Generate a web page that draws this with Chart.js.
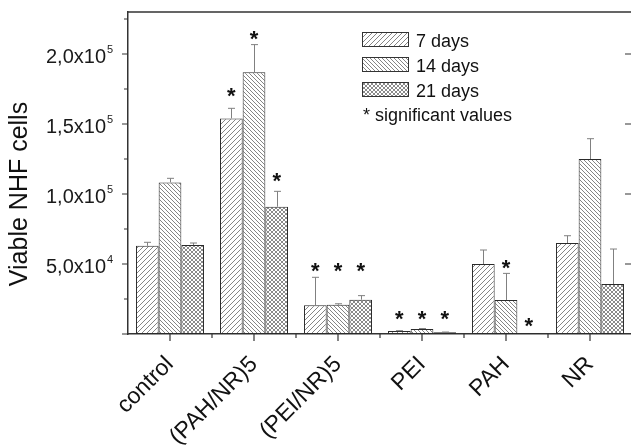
<!DOCTYPE html>
<html>
<head>
<meta charset="utf-8">
<script src="https://cdn.jsdelivr.net/npm/chart.js@4.4.0/dist/chart.umd.min.js"></script>
<style>
html, body { margin: 0; padding: 0; background: #fff; overflow: hidden; }
</style>
</head>
<body>
<canvas id="chart" width="636" height="448"></canvas>
<script>
const categories = ['control', '(PAH/NR)5', '(PEI/NR)5', 'PEI', 'PAH', 'NR'];
const seriesNames = ['7 days', '14 days', '21 days'];

// mean viable cells
const days7 = [63000, 154000, 20500, 2100, 50000, 65000];
const days14 = [108300, 186900, 20900, 3600, 24300, 125000];
const days21 = [63600, 90900, 24500, 1200, 500, 35700];

// upper error (SD)
const err7 = [2500, 7200, 20000, 300, 10000, 5200];
const err14 = [2900, 19800, 700, 300, 19000, 14500];
const err21 = [1400, 11000, 2900, 200, 0, 25000];

// level of the "*" mark for significant values (null = not significant)
const star7 = [null, 174300, 49300, 14800, null, null];
const star14 = [null, 215000, 49300, 14800, 51600, null];
const star21 = [null, 113600, 49300, 14800, 10000, null];

const yMajor = [0, 50000, 100000, 150000, 200000];
const yMinor = [25000, 75000, 125000, 175000, 225000];
const yLabelled = [50000, 100000, 150000, 200000];

const FONT = '"Liberation Sans", Arial, sans-serif';

function hatch(dirs, step, color) {
	const c = document.createElement('canvas');
	c.width = c.height = step;
	const g = c.getContext('2d');
	g.fillStyle = '#fff';
	g.fillRect(0, 0, step, step);
	g.strokeStyle = color;
	g.lineWidth = 1;
	dirs.forEach((d) => {
		[-step, 0, step].forEach((k) => {
			g.beginPath();
			if (d === '/') {
				g.moveTo(k - 1, step + 1);
				g.lineTo(k + step + 1, -1);
			} else {
				g.moveTo(k - 1, -1);
				g.lineTo(k + step + 1, step + 1);
			}
			g.stroke();
		});
	});
	return g.createPattern(c, 'repeat');
}

const fills = [
	hatch(['/'], 5, '#858585'),
	hatch(['\\'], 4, '#858585'),
	hatch(['/', '\\'], 4, '#8a8a8a'),
];
const values = [days7, days14, days21];
const errors = [err7, err14, err21];
const stars = [star7, star14, star21];

function sciLabel(v) {
	const exp = Math.floor(Math.log10(v));
	const mant = (v / Math.pow(10, exp)).toFixed(1).replace('.', ',');
	return { main: mant + 'x10', sup: String(exp) };
}

const decor = {
	id: 'decor',
	afterDatasetsDraw(chart) {
		const { ctx, chartArea: a, scales: { x, y } } = chart;
		ctx.save();

		// error bars
		ctx.strokeStyle = '#808080';
		ctx.lineWidth = 1;
		values.forEach((vals, i) => {
			const meta = chart.getDatasetMeta(i);
			meta.data.forEach((bar, j) => {
				if (!errors[i][j]) return;
				const top = y.getPixelForValue(vals[j] + errors[i][j]);
				const bx = Math.round(bar.x) + 0.5;
				ctx.beginPath();
				ctx.moveTo(bx, bar.y);
				ctx.lineTo(bx, top);
				ctx.moveTo(bx - 3.5, top);
				ctx.lineTo(bx + 3.5, top);
				ctx.stroke();
			});
		});

		// significance stars
		ctx.fillStyle = '#111';
		ctx.font = 'bold 22px ' + FONT;
		ctx.textAlign = 'center';
		ctx.textBaseline = 'alphabetic';
		stars.forEach((lv, i) => {
			const meta = chart.getDatasetMeta(i);
			meta.data.forEach((bar, j) => {
				if (lv[j] == null) return;
				ctx.fillText('*', bar.x, y.getPixelForValue(lv[j]) + 0.58 * 22);
			});
		});

		// frame (top, right)
		ctx.strokeStyle = '#333';
		ctx.lineWidth = 1.5;
		ctx.beginPath();
		ctx.moveTo(a.left, a.top);
		ctx.lineTo(a.right, a.top);
		ctx.lineTo(a.right, a.bottom);
		ctx.stroke();

		// tick marks
		ctx.lineWidth = 1.2;
		ctx.beginPath();
		yMajor.forEach((v) => {
			const py = y.getPixelForValue(v);
			ctx.moveTo(a.left - 6, py);
			ctx.lineTo(a.left, py);
			if (v > 0) {
				ctx.moveTo(a.right - 7, py);
				ctx.lineTo(a.right, py);
			}
		});
		yMinor.forEach((v) => {
			const py = y.getPixelForValue(v);
			ctx.moveTo(a.left - 4, py);
			ctx.lineTo(a.left, py);
		});
		categories.forEach((c, j) => {
			const px = x.getPixelForValue(j);
			ctx.moveTo(px, a.bottom);
			ctx.lineTo(px, a.bottom + 7);
			if (j > 0) {
				const bx = (px + x.getPixelForValue(j - 1)) / 2;
				ctx.moveTo(bx, a.bottom);
				ctx.lineTo(bx, a.bottom + 4);
			}
		});
		ctx.stroke();

		// y tick labels with superscript exponent
		ctx.fillStyle = '#1a1a1a';
		ctx.textBaseline = 'alphabetic';
		yLabelled.forEach((v) => {
			const py = y.getPixelForValue(v);
			const t = sciLabel(v);
			ctx.font = '11px ' + FONT;
			ctx.textAlign = 'left';
			ctx.fillText(t.sup, a.left - 21, py - 1);
			ctx.font = '20px ' + FONT;
			ctx.textAlign = 'right';
			ctx.fillText(t.main, a.left - 22, py + 9);
		});

		// y title
		ctx.save();
		ctx.translate(20, 194);
		ctx.rotate(-Math.PI / 2);
		ctx.font = '25px ' + FONT;
		ctx.textAlign = 'center';
		ctx.textBaseline = 'middle';
		ctx.fillStyle = '#111';
		ctx.fillText('Viable NHF cells', 0, 0);
		ctx.restore();

		// legend
		ctx.font = '18px ' + FONT;
		ctx.textAlign = 'left';
		ctx.textBaseline = 'alphabetic';
		seriesNames.forEach((name, i) => {
			const top = 32 + i * 25;
			ctx.fillStyle = fills[i];
			ctx.fillRect(362, top, 46, 14);
			ctx.strokeStyle = '#333';
			ctx.lineWidth = 1;
			ctx.strokeRect(362.5, top + 0.5, 46, 14);
			ctx.fillStyle = '#111';
			ctx.fillText(name, 416, top + 14.5);
		});
		ctx.fillText('* significant values', 363, 121);

		ctx.restore();
	}
};

new Chart(document.getElementById('chart'), {
	type: 'bar',
	data: {
		labels: categories,
		datasets: seriesNames.map((name, i) => ({
			label: name,
			data: values[i],
			backgroundColor: fills[i],
		})),
	},
	options: {
		responsive: false,
		animation: false,
		layout: { padding: { top: 12, right: 4, left: 0, bottom: 0 } },
		datasets: {
			bar: {
				categoryPercentage: 0.81,
				barPercentage: 1,
				borderColor: '#2a2a2a',
				borderWidth: 1,
				borderSkipped: false,
			}
		},
		plugins: {
			legend: { display: false },
			tooltip: { enabled: false },
		},
		scales: {
			x: {
				grid: { display: false },
				border: { color: '#333', width: 1.5 },
				ticks: {
					autoSkip: false,
					maxRotation: 45,
					minRotation: 45,
					padding: 9,
					color: '#111',
					font: { family: FONT, size: 23 },
				},
				afterFit: (s) => { s.height = 114; },
			},
			y: {
				min: 0,
				max: 230000,
				grid: { display: false },
				border: { color: '#333', width: 1.5 },
				ticks: { display: false },
				afterFit: (s) => { s.width = 128; },
			},
		},
	},
	plugins: [decor],
});
</script>
</body>
</html>
